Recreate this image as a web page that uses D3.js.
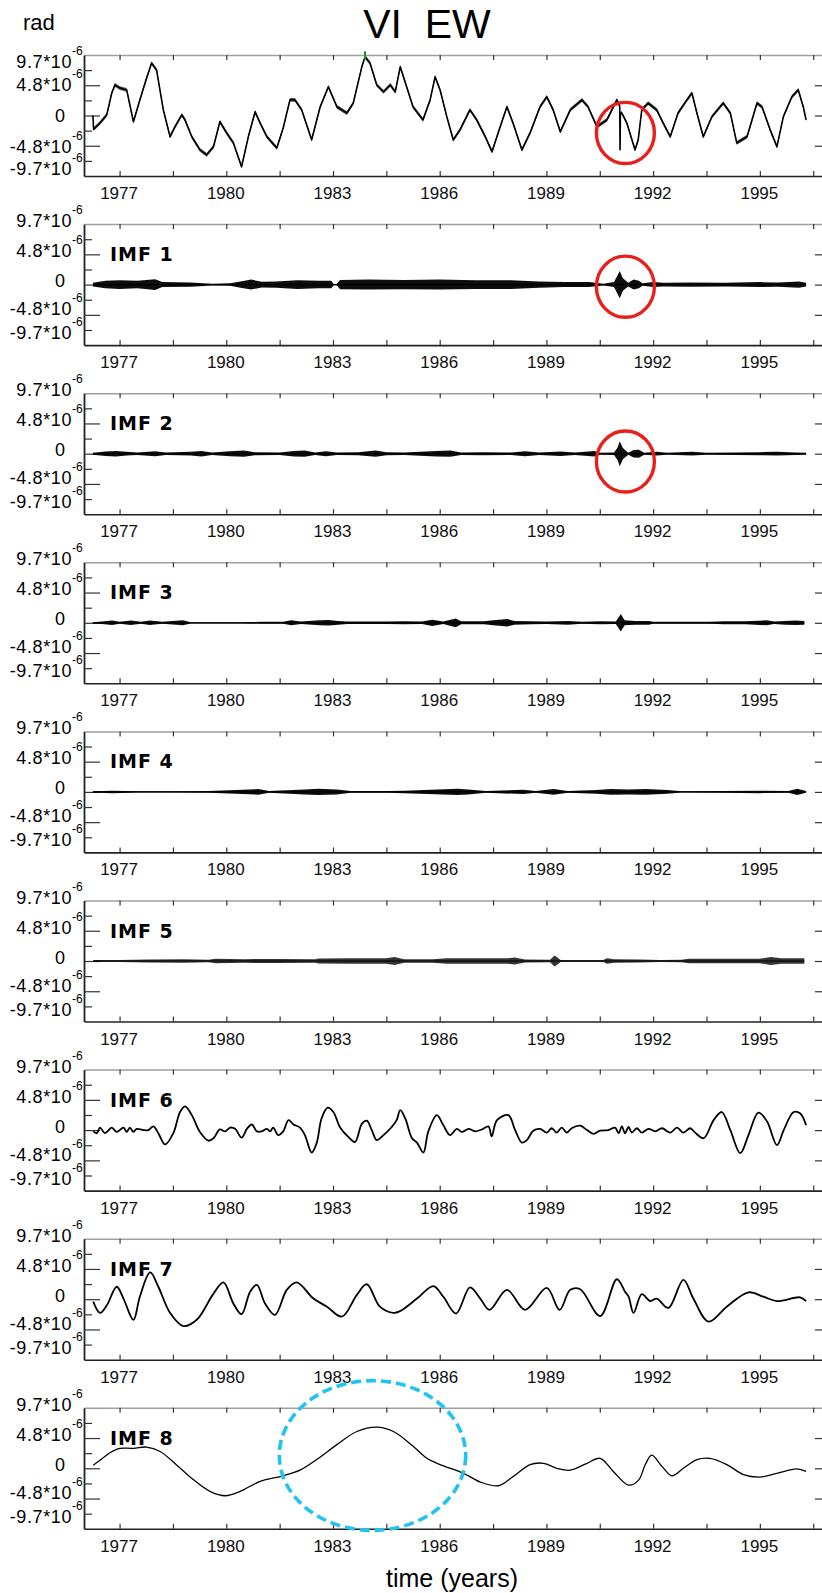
<!DOCTYPE html>
<html>
<head>
<meta charset="utf-8">
<script src="https://cdn.jsdelivr.net/npm/d3@7"></script>
<style>
  body { margin: 0; background: #fff; }
  svg { display: block; font-family: "Liberation Sans", Arial, sans-serif; }
</style>
</head>
<body>
<div id="chart"></div>
<script>
// ---- data (values in units of 1e-6 rad, time in years) ----
const panelNames = ["", "IMF 1", "IMF 2", "IMF 3", "IMF 4", "IMF 5", "IMF 6", "IMF 7", "IMF 8"];
const yTickValues = [9.7, 4.85, 0, -4.85, -9.7];
const yTickLabels = ["9.7*10", "4.8*10", "0", "-4.8*10", "-9.7*10"];
const yMinorValues = [7.275, 2.425, -2.425, -7.275];
const xTickYears = [1977, 1980, 1983, 1986, 1989, 1992, 1995];
const xMinorYears = [1978.5, 1981.5, 1984.5, 1987.5, 1990.5, 1993.5, 1996.5];

// original signal
const rawYears = [1976.25,1976.27,1976.45,1976.64,1976.78,1976.87,1977.01,1977.20,1977.39,1977.57,
  1977.76,1977.90,1978.04,1978.23,1978.42,1978.56,1978.75,1978.84,1979.03,1979.26,
  1979.45,1979.64,1979.82,1980.01,1980.20,1980.43,1980.62,1980.81,1980.95,1981.14,
  1981.42,1981.60,1981.79,1981.93,1982.12,1982.40,1982.64,1982.87,1983.11,1983.39,
  1983.57,1983.81,1983.90,1984.04,1984.23,1984.42,1984.61,1984.75,1984.89,1985.07,
  1985.25,1985.53,1985.73,1985.87,1986.01,1986.20,1986.38,1986.57,1986.85,1987.04,
  1987.28,1987.47,1987.70,1987.89,1988.06,1988.31,1988.54,1988.82,1989.01,1989.19,
  1989.39,1989.67,1990.00,1990.17,1990.42,1990.70,1990.98,1991.06,1991.07,1991.08,
  1991.12,1991.26,1991.49,1991.58,1991.68,1991.86,1992.10,1992.28,1992.48,1992.70,
  1992.95,1993.09,1993.23,1993.41,1993.65,1993.97,1994.17,1994.35,1994.64,1994.92,
  1995.06,1995.29,1995.48,1995.66,1995.90,1996.08,1996.22,1996.30];
const rawValues = [0.0,-2.2,-1.2,0.1,3.6,4.9,4.4,4.1,-1.0,2.5,
  6.0,8.4,7.3,0.9,-3.4,-1.8,0.1,-0.7,-3.4,-5.5,
  -6.3,-5.0,-1.0,-2.8,-4.4,-8.2,-3.4,0.6,-1.2,-3.4,
  -5.2,-2.0,2.5,2.5,0.9,-3.9,1.4,4.6,1.4,0.4,
  2.0,7.8,9.4,8.4,4.9,3.8,4.9,3.8,7.8,4.6,
  1.4,-0.7,2.5,6.2,4.1,-0.2,-3.9,-2.3,0.9,-0.7,
  -3.4,-5.8,-1.8,1.4,-1.2,-5.5,-2.8,1.4,3.0,0.9,
  -2.6,0.9,2.5,1.4,-1.8,-0.7,2.5,1.5,-5.5,0.4,
  0.4,-1.2,-5.5,-3.9,0.9,2.0,0.9,-1.2,-3.4,0.4,
  2.5,3.6,0.4,-3.4,-0.2,2.0,0.4,-4.4,-3.4,2.0,
  1.4,-2.3,-5.0,-0.2,3.0,4.1,1.4,-0.7];
const rawNoise = 0.3; // half-width of the daily scatter around the signal
const greenMarkYear = 1983.9;
const greenMarkRange = [9.0, 10.3];

// IMF 1-5: read as oscillation envelopes (half amplitude)
const imf1Years = [1976.25,1976.6,1977.0,1977.5,1978.0,1978.2,1979.0,1979.6,1980.1,1980.4,
  1980.7,1981.0,1981.4,1982.0,1982.6,1982.95,1983.02,1983.1,1983.2,1984.0,
  1985.0,1986.0,1987.0,1988.0,1988.8,1989.5,1990.2,1990.6,1990.9,1991.0,
  1991.06,1991.15,1991.3,1991.45,1991.6,1991.7,1992.0,1992.3,1993.0,1994.0,
  1995.0,1995.5,1996.1,1996.3];
const imf1Amp = [0.3,0.6,0.7,0.6,0.85,0.4,0.35,0.15,0.2,0.5,
  0.8,0.45,0.5,0.7,0.6,0.6,0.1,0.1,0.75,0.8,
  0.75,0.8,0.7,0.7,0.5,0.4,0.4,0.15,0.4,1.5,
  2.2,1.0,0.3,0.8,0.6,0.2,0.4,0.3,0.35,0.3,
  0.4,0.35,0.5,0.3];

const imf2Years = [1976.25,1976.6,1976.9,1977.2,1977.5,1978.0,1978.3,1979.0,1979.3,1979.6,
  1980.1,1980.5,1980.8,1981.5,1981.9,1982.2,1982.5,1982.8,1983.1,1983.7,
  1984.2,1984.5,1985.0,1985.9,1986.3,1986.6,1987.2,1988.0,1988.4,1988.8,
  1989.4,1989.8,1990.35,1990.5,1990.9,1991.0,1991.06,1991.15,1991.3,1991.45,
  1991.6,1991.75,1992.1,1992.4,1993.1,1993.5,1994.3,1995.0,1995.5,1996.0,1996.3];
const imf2Amp = [0.15,0.35,0.45,0.3,0.2,0.4,0.2,0.3,0.45,0.2,
  0.4,0.5,0.25,0.2,0.45,0.5,0.2,0.4,0.2,0.25,
  0.5,0.25,0.2,0.45,0.5,0.2,0.25,0.2,0.4,0.2,
  0.35,0.2,0.45,0.15,0.2,1.0,2.0,0.9,0.15,0.6,
  0.65,0.15,0.3,0.15,0.3,0.15,0.2,0.25,0.3,0.2,0.15];

const imf3Years = [1976.25,1976.5,1976.79,1977.0,1977.32,1977.6,1977.85,1978.2,1978.78,1979.0,
  1980.4,1981.0,1981.6,1981.82,1982.1,1982.62,1982.88,1983.15,1983.4,1984.5,
  1985.0,1985.5,1985.79,1986.1,1986.45,1986.6,1987.25,1987.5,1987.9,1988.1,
  1988.57,1989.0,1989.6,1990.0,1990.5,1990.95,1991.09,1991.2,1991.5,1991.88,
  1992.0,1993.6,1994.0,1994.6,1995.19,1995.4,1995.7,1996.0,1996.25];
const imf3Amp = [0.1,0.2,0.35,0.15,0.35,0.15,0.35,0.15,0.4,0.1,
  0.1,0.15,0.15,0.4,0.2,0.4,0.45,0.3,0.2,0.2,
  0.25,0.2,0.5,0.2,0.7,0.25,0.25,0.4,0.6,0.3,
  0.25,0.2,0.3,0.15,0.25,0.2,1.4,0.4,0.3,0.3,
  0.15,0.15,0.25,0.25,0.4,0.2,0.3,0.35,0.3];

const imf4Years = [1976.25,1976.8,1977.5,1978.5,1979.5,1980.9,1981.2,1982.2,1982.6,1983.1,
  1983.5,1984.5,1985.0,1986.5,1986.8,1987.3,1988.35,1988.7,1989.2,1989.6,
  1990.4,1990.8,1991.3,1991.8,1992.4,1992.8,1994.0,1995.0,1995.8,1996.05,1996.3];
const imf4Amp = [0.1,0.2,0.1,0.1,0.15,0.45,0.15,0.4,0.5,0.4,
  0.15,0.15,0.2,0.5,0.4,0.15,0.35,0.15,0.45,0.15,
  0.3,0.45,0.4,0.45,0.3,0.1,0.15,0.2,0.15,0.5,0.15];

const imf5Years = [1976.26,1977.0,1977.8,1978.8,1979.5,1979.7,1980.5,1981.5,1982.5,1982.6,
  1983.5,1984.5,1984.73,1985.0,1985.8,1986.2,1987.0,1987.9,1988.1,1988.4,
  1989.1,1989.23,1989.4,1990.6,1990.7,1990.9,1991.6,1992.2,1992.8,1993.0,
  1994.0,1995.0,1995.3,1995.6,1996.25];
const imf5Amp = [0.15,0.15,0.25,0.28,0.2,0.35,0.3,0.32,0.3,0.4,
  0.43,0.43,0.64,0.3,0.28,0.45,0.45,0.45,0.55,0.25,
  0.2,0.9,0.15,0.15,0.45,0.3,0.25,0.15,0.2,0.35,
  0.38,0.35,0.64,0.43,0.43];

// IMF 6-8: smooth modes
const imf6Years = [1976.26,1976.36,1976.45,1976.59,1976.78,1976.92,1977.11,1977.20,1977.29,1977.39,
  1977.48,1977.67,1977.81,1977.95,1978.09,1978.28,1978.51,1978.70,1978.84,1979.03,
  1979.26,1979.50,1979.64,1979.82,1979.97,1980.11,1980.25,1980.43,1980.58,1980.72,
  1980.86,1981.00,1981.14,1981.23,1981.32,1981.46,1981.60,1981.75,1981.89,1982.07,
  1982.21,1982.40,1982.54,1982.68,1982.85,1983.01,1983.20,1983.43,1983.62,1983.81,
  1983.95,1984.09,1984.23,1984.42,1984.65,1984.79,1984.89,1985.03,1985.22,1985.36,
  1985.54,1985.68,1985.92,1986.10,1986.29,1986.48,1986.62,1986.81,1986.99,1987.18,
  1987.37,1987.46,1987.61,1987.93,1988.12,1988.31,1988.45,1988.63,1988.82,1989.01,
  1989.15,1989.29,1989.43,1989.57,1989.71,1989.95,1990.14,1990.32,1990.51,1990.74,
  1990.93,1991.03,1991.12,1991.21,1991.31,1991.40,1991.54,1991.68,1991.87,1992.06,
  1992.25,1992.48,1992.67,1992.85,1993.04,1993.18,1993.42,1993.70,1993.93,1994.17,
  1994.45,1994.68,1994.96,1995.20,1995.48,1995.67,1995.95,1996.13,1996.30];
const imf6Values = [-0.2,-0.5,0.4,-0.5,0.4,-0.3,0.4,-0.3,0.4,-0.3,
  0.2,0.0,0.0,0.6,-0.5,-2.3,-0.5,2.9,3.8,2.4,
  -0.3,-1.7,-1.3,0.1,-0.2,0.4,0.2,-1.2,0.2,0.9,
  -0.2,-0.2,0.2,-0.2,0.4,-0.8,-0.2,1.6,0.9,0.4,
  -0.8,-3.6,-2.1,1.9,3.6,2.9,0.4,-1.1,-1.9,1.0,
  1.5,0.0,-1.6,-0.8,0.5,1.6,3.2,1.9,-1.3,-2.0,
  -3.6,-0.2,2.4,0.8,-0.8,0.2,-0.3,0.2,-0.2,0.1,
  0.6,-1.0,1.6,2.4,0.0,-2.0,-1.6,-0.1,0.2,-0.4,
  0.3,-0.4,0.4,-0.4,0.3,0.7,0.0,-0.6,-0.1,0.0,
  0.4,-0.5,0.6,-0.5,0.5,-0.4,0.3,-0.4,0.2,-0.2,
  0.3,-0.4,0.4,-0.4,0.3,-0.4,-1.3,1.6,2.9,0.0,
  -3.7,-0.8,2.8,1.4,-2.4,0.0,2.9,2.7,0.8];

const imf7Years = [1976.26,1976.45,1976.64,1976.92,1977.11,1977.39,1977.57,1977.86,1978.09,1978.42,
  1978.79,1979.17,1979.64,1979.92,1980.20,1980.43,1980.67,1980.86,1981.09,1981.37,
  1981.70,1981.98,1982.45,1982.83,1983.25,1983.67,1983.95,1984.32,1984.70,1984.89,
  1985.36,1985.82,1986.10,1986.46,1986.85,1987.14,1987.40,1987.89,1988.40,1989.01,
  1989.37,1989.67,1989.95,1990.51,1990.98,1991.21,1991.31,1991.45,1991.68,1991.92,
  1992.10,1992.43,1992.85,1993.13,1993.56,1994.07,1994.68,1995.10,1995.48,1996.13,1996.30];
const imf7Values = [-0.4,-2.2,-1.0,2.0,0.1,-3.3,0.4,4.3,2.0,-2.2,
  -4.3,-3.3,0.9,2.7,-0.7,-2.4,1.2,2.3,-0.7,-2.5,
  1.5,2.7,0.1,-1.2,-2.8,0.7,2.4,-1.2,-2.2,-1.9,
  0.1,2.1,0.4,-2.3,1.9,0.1,-1.7,1.5,-1.7,1.8,
  -1.7,1.5,1.6,-2.7,3.2,1.2,0.4,-2.2,0.8,-0.3,
  0.1,-1.4,3.1,0.1,-3.6,-1.2,1.1,0.4,-0.3,0.3,-0.3];

const imf8Years = [1976.26,1976.45,1976.73,1977.01,1977.39,1977.76,1978.14,1978.61,1979.07,1979.54,
  1979.97,1980.39,1980.95,1981.60,1982.07,1982.54,1983.11,1983.67,1984.23,1984.70,
  1985.26,1985.64,1986.01,1986.67,1987.14,1987.65,1988.07,1988.54,1988.92,1989.29,
  1989.67,1990.14,1990.51,1990.88,1991.31,1991.59,1991.78,1991.96,1992.25,1992.53,
  1992.85,1993.23,1993.60,1994.07,1994.54,1995.01,1995.48,1996.04,1996.30];
const imf8Values = [0.5,1.3,2.5,3.2,3.2,3.4,2.7,0.5,-1.8,-3.7,
  -4.4,-3.7,-2.1,-1.2,-0.3,1.4,3.8,5.9,6.6,5.9,
  3.5,1.6,0.6,-0.8,-2.2,-2.8,-1.3,0.6,0.8,0.0,
  -0.3,0.8,1.6,-0.5,-2.7,-1.9,0.6,2.1,0.3,-1.2,
  0.0,1.4,1.6,0.6,-1.0,-1.4,-0.8,-0.1,-0.5];

// annotations: red circles (panels 0-2) and blue dashed ellipse (panel 8)
const redPanels = [0, 1, 2];
const redYears = [1991.22, 1991.22, 1991.22];
const redValues = [-2.8, -0.34, -1.25];
const redRadiusYears = 0.815, redRadiusValue = 4.9;
const bluePanel = 8, blueYear = 1984.11, blueValue = 2.05;
const blueRadiusYears = 2.62, blueRadiusValue = 12.0;

// ---- layout ----
const W = 822, H = 1593;
const panelTop0 = 55, panelStep = 169.1, panelH = 121;
const labelOffsetsFirst = [13, 36, 67, 98, 120];
const labelOffsets = [3, 33, 63, 91, 115];

const zip = (a, b) => a.map((d, i) => [d, b[i]]);
const lineSeries = [zip(rawYears, rawValues), null, null, null, null, null,
  zip(imf6Years, imf6Values), zip(imf7Years, imf7Values), zip(imf8Years, imf8Values)];
const envSeries = [null, zip(imf1Years, imf1Amp), zip(imf2Years, imf2Amp), zip(imf3Years, imf3Amp),
  zip(imf4Years, imf4Amp), zip(imf5Years, imf5Amp), null, null, null];

const svg = d3.select("#chart").append("svg")
    .attr("width", W)
    .attr("height", H);

const x = d3.scaleLinear().domain([1976, 1997]).range([84, 831]);

svg.append("text")
    .attr("x", 427).attr("y", 38)
    .attr("text-anchor", "middle")
    .style("font-size", "41px")
    .style("white-space", "pre")
    .text("VI  EW");

svg.append("text")
    .attr("x", 23).attr("y", 30)
    .style("font-size", "22px")
    .text("rad");

panelNames.forEach((name, i) => {
    const top = panelTop0 + i * panelStep;
    const y = d3.scaleLinear().domain([-9.7, 9.7]).range([top + panelH, top]);
    const g = svg.append("g");

    // axes (ticks point inward)
    const top1 = g.append("g").attr("transform", `translate(0,${top})`)
        .call(d3.axisTop(x).tickValues(xTickYears.concat(xMinorYears)).tickSize(-5).tickSizeOuter(0).tickFormat(""));
    top1.select(".domain").attr("stroke", "#a0a0a0").attr("stroke-width", 1.5);

    const bot = g.append("g").attr("transform", `translate(0,${top + panelH})`)
        .call(d3.axisBottom(x).tickValues(xTickYears).tickSize(-5).tickSizeOuter(0)
            .tickPadding(11).tickFormat(d3.format("d")));
    bot.select(".domain").attr("stroke", "#222").attr("stroke-width", 1.6);
    bot.selectAll("text").style("font-size", "17px").attr("fill", "#111").attr("dx", "-1");
    g.append("g").attr("transform", `translate(0,${top + panelH})`)
        .call(d3.axisBottom(x).tickValues(xMinorYears).tickSize(-5).tickSizeOuter(0).tickFormat(""))
        .select(".domain").remove();

    const left = g.append("g").attr("transform", "translate(84,0)")
        .call(d3.axisLeft(y).tickValues([4.85, 0, -4.85]).tickSize(-16).tickSizeOuter(0).tickFormat(""));
    left.select(".domain").attr("stroke", "#222").attr("stroke-width", 1.8);
    g.append("g").attr("transform", "translate(84,0)")
        .call(d3.axisLeft(y).tickValues(yMinorValues).tickSize(-8).tickSizeOuter(0).tickFormat(""))
        .select(".domain").remove();
    g.append("g").attr("transform", "translate(831,0)")
        .call(d3.axisRight(y).tickValues([4.85, 0, -4.85]).tickSize(-16).tickSizeOuter(0).tickFormat(""));

    g.selectAll(".tick line").attr("stroke", "#333").attr("stroke-width", 1.2);

    // y tick labels with superscript exponent
    const offs = i === 0 ? labelOffsetsFirst : labelOffsets;
    yTickLabels.forEach((lab, k) => {
        const base = top + offs[k];
        if (lab === "0") {
            g.append("text").attr("x", 65).attr("y", base)
                .attr("text-anchor", "end").style("font-size", "18px").text(lab);
        } else {
            g.append("text").attr("x", 72).attr("y", base)
                .attr("text-anchor", "end").style("font-size", "18px")
                .style("letter-spacing", "0.6px").text(lab);
            g.append("text").attr("x", 72).attr("y", base - 13)
                .style("font-size", "12px").text("-6");
        }
    });

    if (name) {
        g.append("text")
            .attr("x", 110).attr("y", top + 37)
            .style("font-family", "'DejaVu Sans', sans-serif")
            .style("font-weight", "bold")
            .style("font-size", "19px")
            .style("letter-spacing", "1px")
            .text(name);
    }

    if (envSeries[i]) {
        const env = envSeries[i];
        g.append("path")
            .datum(env)
            .attr("d", d3.area()
                .x(d => x(d[0]))
                .y0(d => y(-d[1]))
                .y1(d => y(d[1])))
            .attr("fill", "#000")
            .attr("fill-opacity", i === 5 ? 0.8 : 0.95);
        g.append("line")
            .attr("x1", x(env[0][0])).attr("x2", x(env[env.length - 1][0]))
            .attr("y1", y(0)).attr("y2", y(0))
            .attr("stroke", "#000").attr("stroke-width", 1.2);
    }

    if (i === 0) {
        // scatter band around the raw series
        g.append("path")
            .datum(lineSeries[0])
            .attr("d", d3.area()
                .x(d => x(d[0]))
                .y0(d => y(d[1] - rawNoise))
                .y1(d => y(d[1] + rawNoise)))
            .attr("fill", "#555");
    }

    if (lineSeries[i]) {
        g.append("path")
            .datum(lineSeries[i])
            .attr("d", d3.line()
                .x(d => x(d[0]))
                .y(d => y(d[1]))
                .curve(i === 0 ? d3.curveLinear : d3.curveCatmullRom.alpha(0.5)))
            .attr("fill", "none")
            .attr("stroke", "#000")
            .attr("stroke-width", i === 0 ? 1.6 : (i === 8 ? 1.3 : 1.8))
            .attr("stroke-linejoin", "round");
    }

    if (i === 0) {
        g.append("line")
            .attr("x1", x(greenMarkYear)).attr("x2", x(greenMarkYear))
            .attr("y1", y(greenMarkRange[0])).attr("y2", y(greenMarkRange[1]))
            .attr("stroke", "#1f8f2a").attr("stroke-width", 2);
    }

    const r = redPanels.indexOf(i);
    if (r >= 0) {
        g.append("ellipse")
            .attr("cx", x(redYears[r])).attr("cy", y(redValues[r]))
            .attr("rx", x(redYears[r] + redRadiusYears) - x(redYears[r]))
            .attr("ry", y(0) - y(redRadiusValue))
            .attr("fill", "none").attr("stroke", "#e8201c").attr("stroke-width", 3.4);
    }

    if (i === bluePanel) {
        g.append("ellipse")
            .attr("cx", x(blueYear)).attr("cy", y(blueValue))
            .attr("rx", x(blueYear + blueRadiusYears) - x(blueYear))
            .attr("ry", y(0) - y(blueRadiusValue))
            .attr("fill", "none").attr("stroke", "#22c3ef")
            .attr("stroke-width", 3.6).attr("stroke-dasharray", "10,5");
    }
});

svg.append("text")
    .attr("x", 452).attr("y", 1587)
    .attr("text-anchor", "middle")
    .style("font-size", "25px")
    .text("time (years)");
</script>
</body>
</html>
